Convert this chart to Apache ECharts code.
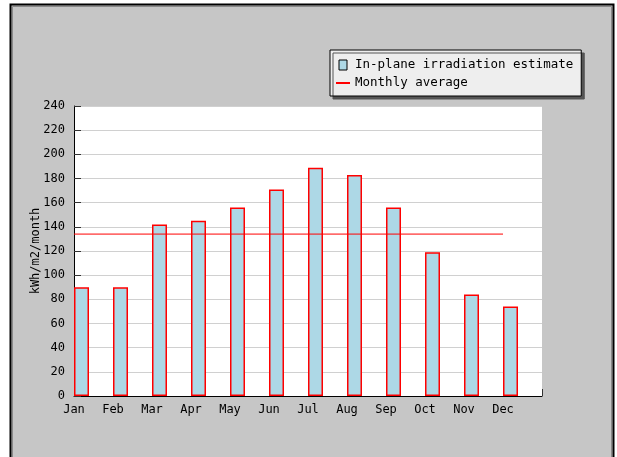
<!DOCTYPE html>
<html>
<head>
<meta charset="utf-8">
<script src="https://cdn.jsdelivr.net/npm/echarts@6/dist/echarts.min.js"></script>
<style>
html,body{margin:0;padding:0;background:#fff;}
#chart{width:617px;height:457px;}
</style>
</head>
<body>
<div id="chart"></div>
<script>
// ---- data ----
var months = ['Jan','Feb','Mar','Apr','May','Jun','Jul','Aug','Sep','Oct','Nov','Dec'];
var irradiation = [90, 90, 142, 145, 156, 171, 189, 183, 156, 119, 84, 74];
var monthlyAverage = [134, 134, 134, 134, 134, 134, 134, 134, 134, 134, 134, 134];
var yTicks = {min: 0, max: 240, step: 20};
var seriesNames = ['In-plane irradiation estimate', 'Monthly average'];
var yAxisTitle = 'kWh/m2/month';

// ---- chart ----
var FONT = 'DejaVu Sans Mono';
var categories = months.concat(['']);
var chart = echarts.init(document.getElementById('chart'), null, {renderer: 'canvas'});
chart.setOption({
  animation: false,
  backgroundColor: '#ffffff',
  graphic: [
    {type: 'rect', z: -10, silent: true,
     shape: {x: 10.5, y: 4.5, width: 603, height: 520},
     style: {fill: '#c6c6c6', stroke: '#000', lineWidth: 2}},
    {type: 'rect', z: -9, silent: true,
     shape: {x: 12.5, y: 6.5, width: 599, height: 520},
     style: {fill: 'none', stroke: '#8a8a8a', lineWidth: 1}}
  ],
  grid: {left: 74, right: 75, top: 106, bottom: 61, show: true,
         backgroundColor: '#ffffff', borderWidth: 0, containLabel: false},
  legend: {
    orient: 'vertical', left: 330, top: 50,
    padding: [8, 8, 6, 6], itemGap: 4,
    itemWidth: 14, itemHeight: 10,
    backgroundColor: '#eeeeee', borderColor: '#000', borderWidth: 1,
    shadowColor: '#555', shadowOffsetX: 3, shadowOffsetY: 3, shadowBlur: 0,
    textStyle: {fontFamily: FONT, fontSize: 12.5, color: '#000', lineHeight: 14},
    data: [
      {name: seriesNames[0], icon: 'path://M0,0H8V10H0Z',
       itemStyle: {color: '#add8e6', borderColor: '#000', borderWidth: 1}},
      {name: seriesNames[1], icon: 'path://M0,0H14V2H0Z',
       itemStyle: {color: '#ff0000', borderWidth: 0}}
    ]
  },
  xAxis: {
    type: 'category', data: categories, boundaryGap: false,
    axisLine: {lineStyle: {color: '#000', width: 1}},
    axisTick: {inside: true, length: 7, lineStyle: {color: '#333'}},
    axisLabel: {interval: 0, margin: 8, fontFamily: FONT, fontSize: 12, color: '#000'},
    splitLine: {show: false}
  },
  yAxis: {
    type: 'value', min: yTicks.min, max: yTicks.max, interval: yTicks.step,
    name: yAxisTitle, nameLocation: 'middle', nameGap: 32, nameRotate: 90,
    nameMoveOverlap: false,
    nameTextStyle: {fontFamily: FONT, fontSize: 12, color: '#000'},
    axisLine: {show: true, lineStyle: {color: '#000', width: 1}},
    axisTick: {show: true, inside: true, length: 7, lineStyle: {color: '#333'}},
    axisLabel: {margin: 9, fontFamily: FONT, fontSize: 12, color: '#000'},
    splitLine: {show: true, lineStyle: {color: '#d0d0d0', width: 1}}
  },
  series: [
    {name: '_spacer', type: 'bar', data: [], barWidth: 15, barGap: '0%', silent: true},
    {name: seriesNames[0], type: 'bar', data: irradiation, barWidth: 15, barGap: '0%',
     itemStyle: {color: '#add8e6', borderColor: '#ff0000', borderWidth: 1.5}, z: 2},
    {name: seriesNames[1], type: 'line', data: monthlyAverage, symbol: 'none',
     lineStyle: {color: '#ff0000', width: 1}, itemStyle: {color: '#ff0000'}, z: 3}
  ]
});
</script>
</body>
</html>
